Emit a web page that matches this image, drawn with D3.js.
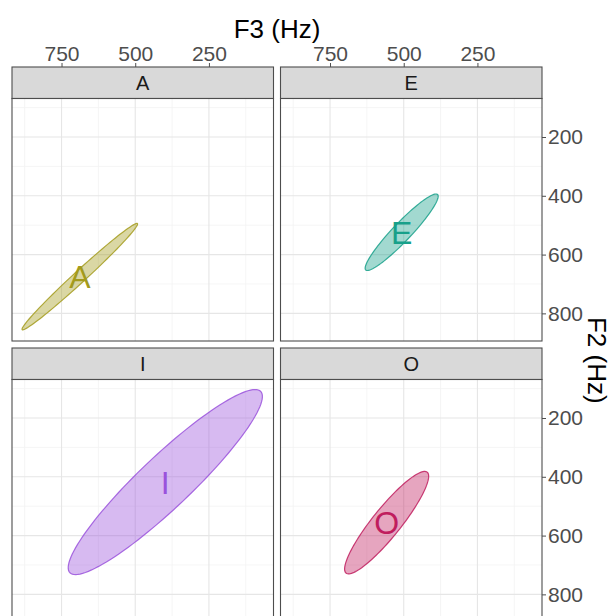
<!DOCTYPE html>
<html>
<head>
<meta charset="utf-8">
<script src="https://cdn.jsdelivr.net/npm/d3@7"></script>
<style>
  html, body { margin: 0; padding: 0; background: #ffffff; }
  svg { display: block; font-family: "Liberation Sans", Arial, Helvetica, sans-serif; }
</style>
</head>
<body>
<svg id="chart" width="611" height="616"></svg>
<script>
// ---- data ----
const vowels = ["A", "E", "I", "O"];
const f3Center = [688, 507, 398, 558];     // Hz
const f2Center = [675, 524, 418, 556];     // Hz
const semiMajor = [266, 177, 447, 220];    // Hz
const semiMinor = [20, 31, 88, 48];        // Hz
const angleDeg = [42.7, 46.5, 43.6, 51.3]; // orientation of major axis in (F3, F2)
const colors = ["#a39b1c", "#17a08a", "#9a52dc", "#c01d5e"];
const f3Ticks = [750, 500, 250];
const f3Minor = [875, 625, 375, 125];
const f2Ticks = [200, 400, 600, 800];
const f2Minor = [100, 300, 500, 700];
const f3Domain = [918, 31];
const f2Domain = [69, 894];

// ---- layout ----
const svg = d3.select("#chart");
const panelW = 261.5, panelH = 242.5, stripH = 31.5;
const colX = [12, 280.5];
const rowY = [67, 348];

const x = d3.scaleLinear().domain(f3Domain).range([0, panelW]);
const y = d3.scaleLinear().domain(f2Domain).range([0, panelH]);

const defs = svg.append("defs");

vowels.forEach((v, i) => {
  const col = i % 2, row = Math.floor(i / 2);
  const g = svg.append("g").attr("transform", `translate(${colX[col]},${rowY[row]})`);

  // strip
  g.append("rect").attr("x", 0).attr("y", 0).attr("width", panelW).attr("height", stripH)
    .attr("fill", "#d9d9d9").attr("stroke", "#4d4d4d").attr("stroke-width", 1.1);
  g.append("text").attr("x", panelW / 2).attr("y", stripH / 2).attr("dy", "0.36em")
    .attr("text-anchor", "middle").attr("font-size", 20).attr("fill", "#1a1a1a").text(v);

  const p = g.append("g").attr("transform", `translate(0,${stripH})`);
  defs.append("clipPath").attr("id", "clip" + i).append("rect")
    .attr("width", panelW).attr("height", panelH);
  const pc = p.append("g").attr("clip-path", `url(#clip${i})`);
  pc.append("rect").attr("width", panelW).attr("height", panelH).attr("fill", "#ffffff");

  // grid
  pc.selectAll(".gxm").data(f3Minor).enter().append("line")
    .attr("x1", d => x(d)).attr("x2", d => x(d)).attr("y1", 0).attr("y2", panelH)
    .attr("stroke", "#f2f2f2").attr("stroke-width", 0.8);
  pc.selectAll(".gym").data(f2Minor).enter().append("line")
    .attr("y1", d => y(d)).attr("y2", d => y(d)).attr("x1", 0).attr("x2", panelW)
    .attr("stroke", "#f2f2f2").attr("stroke-width", 0.8);
  pc.selectAll(".gx").data(f3Ticks).enter().append("line")
    .attr("x1", d => x(d)).attr("x2", d => x(d)).attr("y1", 0).attr("y2", panelH)
    .attr("stroke", "#e6e6e6").attr("stroke-width", 1.1);
  pc.selectAll(".gy").data(f2Ticks).enter().append("line")
    .attr("y1", d => y(d)).attr("y2", d => y(d)).attr("x1", 0).attr("x2", panelW)
    .attr("stroke", "#e6e6e6").attr("stroke-width", 1.1);

  // ellipse from data parameters
  const th = angleDeg[i] * Math.PI / 180;
  const pts = d3.range(0, 361, 3).map(deg => {
    const t = deg * Math.PI / 180;
    const f3 = f3Center[i] + semiMajor[i] * Math.cos(t) * Math.cos(th) - semiMinor[i] * Math.sin(t) * Math.sin(th);
    const f2 = f2Center[i] + semiMajor[i] * Math.cos(t) * Math.sin(th) + semiMinor[i] * Math.sin(t) * Math.cos(th);
    return [f3, f2];
  });
  const line = d3.line().x(d => x(d[0])).y(d => y(d[1])).curve(d3.curveLinearClosed);
  pc.append("path").attr("d", line(pts))
    .attr("fill", colors[i]).attr("fill-opacity", 0.4)
    .attr("stroke", colors[i]).attr("stroke-opacity", 0.85).attr("stroke-width", 1.2);
  pc.append("text").attr("x", x(f3Center[i])).attr("y", y(f2Center[i])).attr("dy", "0.36em")
    .attr("text-anchor", "middle").attr("font-size", 32).attr("fill", colors[i]).text(v);

  // border
  p.append("rect").attr("width", panelW).attr("height", panelH)
    .attr("fill", "none").attr("stroke", "#4d4d4d").attr("stroke-width", 1.1);

  // top axis (row 0)
  if (row === 0) {
    const ax = d3.axisTop(x).tickValues(f3Ticks).tickSize(4).tickPadding(2).tickFormat(d3.format("d"));
    const a = g.append("g").call(ax);
    a.select(".domain").remove();
    a.selectAll(".tick line").attr("stroke", "#4d4d4d").attr("stroke-width", 1);
    a.selectAll(".tick text").attr("font-size", 21).attr("fill", "#4d4d4d")
      .attr("font-family", "Liberation Sans, Arial, sans-serif");
  }
  // right axis (col 1)
  if (col === 1) {
    const ay = d3.axisRight(y).tickValues(f2Ticks).tickSize(4).tickPadding(2).tickFormat(d3.format("d"));
    const a = p.append("g").attr("transform", `translate(${panelW},0)`).call(ay);
    a.select(".domain").remove();
    a.selectAll(".tick line").attr("stroke", "#4d4d4d").attr("stroke-width", 1);
    a.selectAll(".tick text").attr("font-size", 21).attr("fill", "#4d4d4d")
      .attr("font-family", "Liberation Sans, Arial, sans-serif");
  }
});

// axis titles
svg.append("text").attr("x", (colX[0] + colX[1] + panelW) / 2).attr("y", 38)
  .attr("text-anchor", "middle").attr("font-size", 26).attr("fill", "#000").text("F3 (Hz)");
svg.append("text")
  .attr("transform", `translate(588,${(rowY[0] + stripH + rowY[1] + stripH + panelH) / 2}) rotate(90)`)
  .attr("text-anchor", "middle").attr("font-size", 26).attr("fill", "#000").text("F2 (Hz)");
</script>
</body>
</html>
